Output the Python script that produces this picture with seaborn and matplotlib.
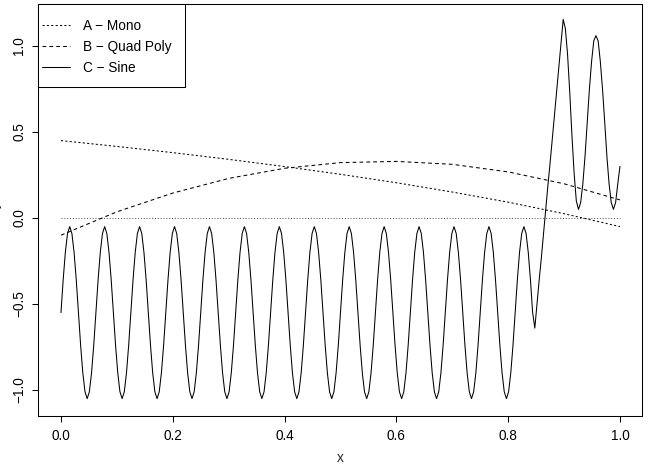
import numpy as np
import pandas as pd
import matplotlib
matplotlib.use("Agg")
import matplotlib.pyplot as plt
import seaborn as sns
from matplotlib.patches import Rectangle

# ---------------- data ----------------
mono_x = [0.0, 0.1, 0.2, 0.3, 0.4, 0.5, 0.6, 0.7, 0.8, 0.9, 1.0]
mono_y = [0.450, 0.416, 0.380, 0.341, 0.299, 0.254, 0.205, 0.151, 0.092, 0.025, -0.050]

quad_x = [0.0, 0.1, 0.2, 0.3, 0.4, 0.5, 0.6, 0.7, 0.8, 0.9, 1.0]
quad_y = [-0.100, 0.036, 0.145, 0.230, 0.289, 0.322, 0.329, 0.312, 0.268, 0.199, 0.105]

zero_x = [0.0, 1.0]
zero_y = [0.0, 0.0]

sine_y = [
    -0.55, -0.36, -0.20, -0.09, -0.05, -0.09, -0.20, -0.36, -0.55, -0.74, -0.90, -1.01, -1.05, -1.01, -0.90, -0.74,
    -0.55, -0.36, -0.20, -0.09, -0.05, -0.09, -0.20, -0.36, -0.55, -0.74, -0.90, -1.01, -1.05, -1.01, -0.90, -0.74,
    -0.55, -0.36, -0.20, -0.09, -0.05, -0.09, -0.20, -0.36, -0.55, -0.74, -0.90, -1.01, -1.05, -1.01, -0.90, -0.74,
    -0.55, -0.36, -0.20, -0.09, -0.05, -0.09, -0.20, -0.36, -0.55, -0.74, -0.90, -1.01, -1.05, -1.01, -0.90, -0.74,
    -0.55, -0.36, -0.20, -0.09, -0.05, -0.09, -0.20, -0.36, -0.55, -0.74, -0.90, -1.01, -1.05, -1.01, -0.90, -0.74,
    -0.55, -0.36, -0.20, -0.09, -0.05, -0.09, -0.20, -0.36, -0.55, -0.74, -0.90, -1.01, -1.05, -1.01, -0.90, -0.74,
    -0.55, -0.36, -0.20, -0.09, -0.05, -0.09, -0.20, -0.36, -0.55, -0.74, -0.90, -1.01, -1.05, -1.01, -0.90, -0.74,
    -0.55, -0.36, -0.20, -0.09, -0.05, -0.09, -0.20, -0.36, -0.55, -0.74, -0.90, -1.01, -1.05, -1.01, -0.90, -0.74,
    -0.55, -0.36, -0.20, -0.09, -0.05, -0.09, -0.20, -0.36, -0.55, -0.74, -0.90, -1.01, -1.05, -1.01, -0.90, -0.74,
    -0.55, -0.36, -0.20, -0.09, -0.05, -0.09, -0.20, -0.36, -0.55, -0.74, -0.90, -1.01, -1.05, -1.01, -0.90, -0.74,
    -0.55, -0.36, -0.20, -0.09, -0.05, -0.09, -0.20, -0.36, -0.55, -0.74, -0.90, -1.01, -1.05, -1.01, -0.90, -0.74,
    -0.55, -0.36, -0.20, -0.09, -0.05, -0.09, -0.20, -0.36, -0.55, -0.74, -0.90, -1.01, -1.05, -1.01, -0.90, -0.74,
    -0.55, -0.36, -0.20, -0.09, -0.05, -0.09, -0.20, -0.36, -0.55, -0.74, -0.90, -1.01, -1.05, -1.01, -0.90, -0.74,
    -0.55, -0.36, -0.20, -0.09, -0.05, -0.09, -0.20, -0.36, -0.55, -0.64,
    -0.50, -0.36, -0.23, -0.09, 0.05, 0.19, 0.32, 0.46, 0.60, 0.74, 0.88, 1.02, 1.155,
    1.10, 0.95, 0.73, 0.48, 0.26, 0.10, 0.05,
    0.09, 0.20, 0.36, 0.56, 0.75, 0.91, 1.03, 1.06,
    1.03, 0.91, 0.75, 0.56, 0.36, 0.20, 0.09, 0.05,
    0.09, 0.20, 0.30,
]
sine_x = np.linspace(0.0, 1.0, len(sine_y))

series_labels = ["A \u2212 Mono", "B \u2212 Quad Poly", "C \u2212 Sine"]
y_ticks = [-1.0, -0.5, 0.0, 0.5, 1.0]
x_ticks = [0.0, 0.2, 0.4, 0.6, 0.8, 1.0]

# ---------------- style ----------------
sns.set_theme(style="ticks")
plt.rcParams["font.family"] = ["Liberation Sans", "DejaVu Sans"]
FS = 9.8
LW = 0.75

fig = plt.figure(figsize=(6.5, 4.7), dpi=100)
W, H = 650, 470
L, R, T, B = 38, 642, 4, 416
ax = fig.add_axes([L / W, (H - B) / H, (R - L) / W, (B - T) / H])

sns.lineplot(x=zero_x, y=zero_y, ax=ax, color="#333333", linewidth=0.6,
             linestyle=(0, (1.2, 2.2)), label="_nolegend_", legend=False)
hA = sns.lineplot(x=mono_x, y=mono_y, ax=ax, color="black", linewidth=LW,
                  linestyle=(0, (2.0, 2.2)), legend=False).lines[-1]
hB = sns.lineplot(x=quad_x, y=quad_y, ax=ax, color="black", linewidth=LW,
                  linestyle=(0, (3.6, 3.0)), legend=False).lines[-1]
hC = sns.lineplot(x=sine_x, y=sine_y, ax=ax, color="black", linewidth=LW,
                  linestyle="-", legend=False, sort=False).lines[-1]

ax.set_xlim(-0.0411, 1.0394)
ax.set_ylim(-1.151, 1.244)
ax.set_xticks(x_ticks)
ax.set_xticklabels([f"{v:.1f}" for v in x_ticks])
ax.set_yticks(y_ticks)
ax.set_yticklabels([f"{v:.1f}".replace("-", "\u2212") for v in y_ticks])

for sp in ax.spines.values():
    sp.set_visible(True)
    sp.set_color("black")
    sp.set_linewidth(0.75)

ax.tick_params(axis="both", direction="out", length=4.3, width=0.75,
               color="black", labelsize=FS, labelcolor="black")
ax.tick_params(axis="x", pad=5)
ax.tick_params(axis="y", pad=4)
for lab in ax.get_yticklabels():
    lab.set_rotation(90)
    lab.set_rotation_mode("anchor")
    lab.set_ha("center")
    lab.set_va("bottom")

ax.set_xlabel("x", fontsize=FS)
ax.xaxis.set_label_coords(0.5, (B - 458) / (B - T))
ax.xaxis.label.set_va("center")
ax.set_ylabel("")
fig.text(-5 / W, 1 - 205 / H, "y", rotation=90, ha="center", va="center",
         fontsize=FS)

# legend frame (R style box) + legend entries
ax.add_patch(Rectangle((0, 1 - (87 - T) / (B - T)), (185 - L) / (R - L),
                       (87 - T) / (B - T), transform=ax.transAxes,
                       facecolor="white", edgecolor="black", linewidth=0.75,
                       zorder=4, clip_on=False))
leg = ax.legend([hA, hB, hC], series_labels, loc="upper left",
                bbox_to_anchor=((42 - L) / (R - L), 1 - (19 - T) / (B - T)),
                frameon=False, fontsize=FS, borderpad=0, borderaxespad=0,
                handlelength=2.06, handletextpad=0.96, labelspacing=0.5)
leg.set_zorder(5)
for t in leg.get_texts():
    t.set_color("black")

fig.savefig("out.png", dpi=100)
